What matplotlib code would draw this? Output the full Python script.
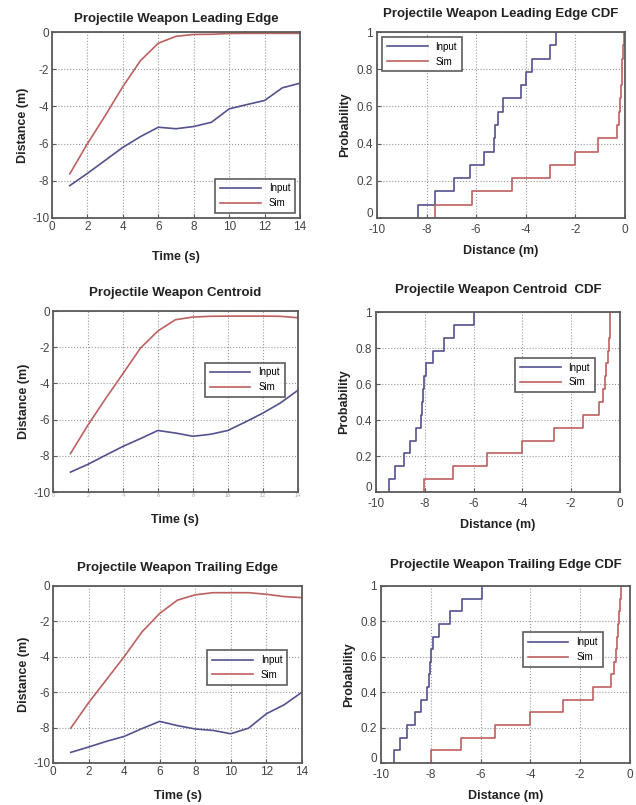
import numpy as np
import matplotlib.pyplot as plt
import matplotlib.transforms as mtransforms

plt.rcParams['font.family'] = ['Liberation Sans', 'DejaVu Sans']
plt.rcParams['axes.unicode_minus'] = False

time_s = [1, 2, 3, 4, 5, 6, 7, 8, 9, 10, 11, 12, 13, 14]

# time histories (distance in m)
lead_input = [-8.26, -7.6, -6.9, -6.2, -5.62, -5.12, -5.2, -5.08, -4.85, -4.13, -3.9, -3.68, -3.0, -2.75]
lead_sim = [-7.63, -6.0, -4.5, -2.93, -1.53, -0.6, -0.23, -0.13, -0.12, -0.08, -0.07, -0.07, -0.07, -0.07]
cent_input = [-8.9, -8.47, -7.97, -7.48, -7.05, -6.6, -6.74, -6.92, -6.81, -6.6, -6.13, -5.64, -5.08, -4.38]
cent_sim = [-7.88, -6.3, -4.85, -3.46, -2.05, -1.1, -0.48, -0.33, -0.29, -0.28, -0.28, -0.28, -0.29, -0.37]
trail_input = [-9.4, -9.1, -8.78, -8.5, -8.06, -7.65, -7.89, -8.08, -8.16, -8.35, -8.03, -7.22, -6.71, -6.0]
trail_sim = [-8.03, -6.6, -5.3, -4.0, -2.6, -1.55, -0.8, -0.5, -0.38, -0.38, -0.38, -0.47, -0.6, -0.66]

# sorted samples behind each empirical CDF
lead_input_cdf = [-8.33, -7.65, -6.9, -6.25, -5.69, -5.28, -5.23, -5.12, -4.92, -4.2, -3.98, -3.77, -3.01, -2.8]
lead_sim_cdf = [-7.68, -6.17, -4.54, -3.01, -2.02, -1.11, -0.34, -0.24, -0.2, -0.16, -0.13, -0.11, -0.08, -0.05]
cent_input_cdf = [-9.48, -9.21, -8.87, -8.61, -8.36, -8.16, -8.11, -8.07, -8.02, -7.96, -7.68, -7.23, -6.79, -5.97]
cent_sim_cdf = [-8.05, -6.86, -5.45, -4.03, -2.72, -1.53, -0.85, -0.71, -0.61, -0.56, -0.51, -0.45, -0.41, -0.4]
trail_input_cdf = [-9.46, -9.22, -8.95, -8.63, -8.38, -8.14, -8.09, -8.05, -7.98, -7.91, -7.68, -7.21, -6.74, -5.96]
trail_sim_cdf = [-8.0, -6.79, -5.44, -4.0, -2.7, -1.48, -0.77, -0.63, -0.57, -0.53, -0.47, -0.43, -0.39, -0.36]

titles = ['Projectile Weapon Leading Edge', 'Projectile Weapon Leading Edge CDF',
          'Projectile Weapon Centroid', 'Projectile Weapon Centroid  CDF',
          'Projectile Weapon Trailing Edge', 'Projectile Weapon Trailing Edge CDF']
title_pads = [7, 11, 11, 14, 11, 13]

BLUE = '#52528f'
RED = '#bd6060'
FRAME = '#5a5a5a'

fig = plt.figure(figsize=(6.36, 8.05), dpi=100)

positions = [
    [0.0818, 0.7292, 0.390, 0.231],
    [0.5928, 0.7292, 0.390, 0.231],
    [0.0833, 0.3888, 0.385, 0.2248],
    [0.5912, 0.3888, 0.3836, 0.2236],
    [0.0833, 0.0522, 0.3915, 0.2199],
    [0.5990, 0.0522, 0.3915, 0.2199],
]


def style(ax, title, pad):
    for s in ax.spines.values():
        s.set_color(FRAME)
        s.set_linewidth(1.3)
    ax.tick_params(direction='in', length=3, color=FRAME, labelsize=8.5,
                   labelcolor='#444444', pad=2)
    ax.grid(True, linestyle=':', color='#999999', linewidth=0.8)
    ax.set_title(title, fontsize=9.5, fontweight='bold', color='#222222', pad=pad)


def ecdf(vals):
    v = np.sort(vals)
    n = len(v)
    x = np.concatenate([[v[0]], v])
    y = np.concatenate([[0], np.arange(1, n + 1) / n])
    return x, y


def legend(ax, **kw):
    leg = ax.legend(fontsize=7, frameon=True, fancybox=False, handlelength=4.2,
                    borderpad=0.5, labelspacing=0.5, **kw)
    leg.get_frame().set_edgecolor('#333333')
    leg.get_frame().set_linewidth(1.2)


series = [(lead_input, lead_sim), (cent_input, cent_sim), (trail_input, trail_sim)]
cdfs = [(lead_input_cdf, lead_sim_cdf), (cent_input_cdf, cent_sim_cdf),
        (trail_input_cdf, trail_sim_cdf)]
ts_legend = [dict(loc='lower right'), dict(loc='center left', bbox_to_anchor=(0.6, 0.62)),
             dict(loc='center left', bbox_to_anchor=(0.6, 0.54))]
cdf_legend = [dict(loc='upper left'), dict(loc='center left', bbox_to_anchor=(0.55, 0.65)),
              dict(loc='center left', bbox_to_anchor=(0.55, 0.64))]
time_label_pads = [13, 11, 9]
lift = mtransforms.ScaledTranslation(0, 4 / 72, fig.dpi_scale_trans)

for i in range(3):
    ax = fig.add_axes(positions[2 * i])
    inp, sim = series[i]
    ax.plot(time_s, inp, color=BLUE, lw=1.2, label='Input')
    ax.plot(time_s, sim, color=RED, lw=1.2, label='Sim')
    ax.set_xlim(0, 14)
    ax.set_ylim(-10, 0)
    ax.set_xticks(range(0, 15, 2))
    ax.set_yticks(range(-10, 1, 2))
    style(ax, titles[2 * i], title_pads[2 * i])
    ax.set_ylabel('Distance (m)', fontsize=9, fontweight='bold', color='#222222', labelpad=2)
    ax.set_xlabel('Time (s)', fontsize=9, fontweight='bold', color='#222222',
                  labelpad=time_label_pads[i])
    if i == 1:
        # tick labels are cut off in the source
        ax.tick_params(axis='x', labelsize=4, labelcolor='#aaaaaa', pad=1)
    legend(ax, **ts_legend[i])

    ax = fig.add_axes(positions[2 * i + 1])
    inp_c, sim_c = cdfs[i]
    x, y = ecdf(inp_c)
    ax.step(x, y, where='post', color=BLUE, lw=1.2, label='Input')
    x, y = ecdf(sim_c)
    ax.step(x, y, where='post', color=RED, lw=1.2, label='Sim')
    ax.set_xlim(-10, 0)
    ax.set_ylim(0, 1)
    ax.set_xticks(range(-10, 1, 2))
    ax.set_yticks([0, 0.2, 0.4, 0.6, 0.8, 1])
    ax.set_yticklabels(['0', '0.2', '0.4', '0.6', '0.8', '1'])
    style(ax, titles[2 * i + 1], title_pads[2 * i + 1])
    ax.tick_params(axis='x', pad=4)
    ax.tick_params(axis='y', pad=3)
    # corner "0" sits a little above the axis, clear of the "-10"
    zero = ax.get_yticklabels()[0]
    zero.set_transform(zero.get_transform() + lift)
    ax.set_ylabel('Probability', fontsize=9, fontweight='bold', color='#222222', labelpad=4)
    ax.set_xlabel('Distance (m)', fontsize=9, fontweight='bold', color='#222222', labelpad=7)
    legend(ax, **cdf_legend[i])

fig.savefig('out.png', dpi=100)
